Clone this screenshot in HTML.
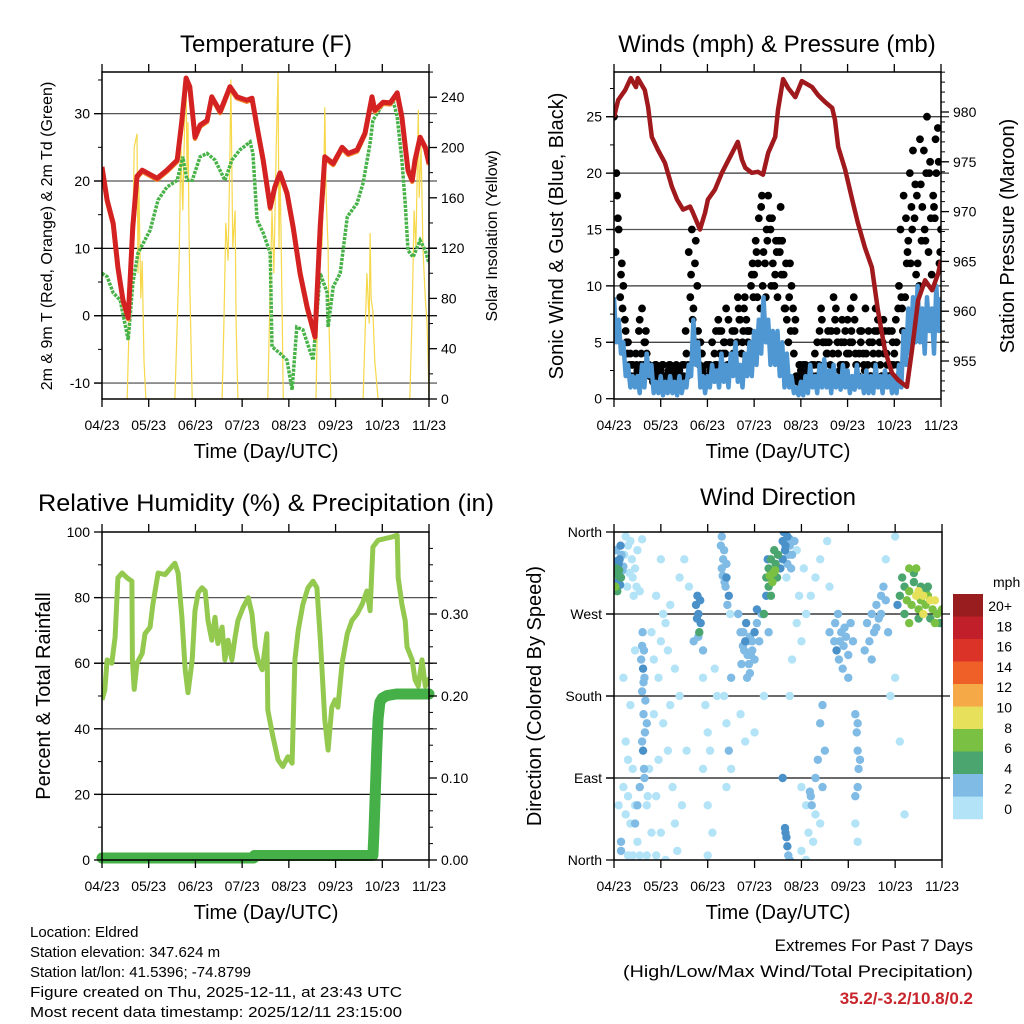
<!DOCTYPE html>
<html><head><meta charset="utf-8"><style>
html,body{margin:0;padding:0;background:#fff;}
svg{display:block;font-family:"Liberation Sans",Arial,sans-serif;}
</style></head><body>
<svg id="chart" width="1024" height="1024" viewBox="0 0 1024 1024" xmlns="http://www.w3.org/2000/svg">
<rect x="0" y="0" width="1024" height="1024" fill="#fff"/>
<text x="266" y="52" font-size="24" text-anchor="middle">Temperature (F)</text>
<text x="777" y="52" font-size="24" text-anchor="middle">Winds (mph) &amp; Pressure (mb)</text>
<text x="266" y="511" font-size="24" text-anchor="middle" textLength="456" lengthAdjust="spacingAndGlyphs">Relative Humidity (%) &amp; Precipitation (in)</text>
<text x="778" y="505" font-size="24" text-anchor="middle">Wind Direction</text>
<text x="266" y="458" font-size="20" text-anchor="middle">Time (Day/UTC)</text>
<text x="778" y="458" font-size="20" text-anchor="middle">Time (Day/UTC)</text>
<text x="266" y="919" font-size="20" text-anchor="middle">Time (Day/UTC)</text>
<text x="778" y="919" font-size="20" text-anchor="middle">Time (Day/UTC)</text>
<text transform="translate(52,236) rotate(-90)" font-size="16" text-anchor="middle">2m &amp; 9m T (Red, Orange) &amp; 2m Td (Green)</text>
<text transform="translate(497,236) rotate(-90)" font-size="16" text-anchor="middle">Solar Insolation (Yellow)</text>
<text transform="translate(563,236) rotate(-90)" font-size="20" text-anchor="middle">Sonic Wind &amp; Gust (Blue, Black)</text>
<text transform="translate(1014,236) rotate(-90)" font-size="20" text-anchor="middle">Station Pressure (Maroon)</text>
<text transform="translate(50,696) rotate(-90)" font-size="20" text-anchor="middle">Percent &amp; Total Rainfall</text>
<text transform="translate(541,696) rotate(-90)" font-size="20" text-anchor="middle">Direction (Colored By Speed)</text>
<g font-size="15">
<text x="30" y="937">Location: Eldred</text>
<text x="30" y="957">Station elevation: 347.624 m</text>
<text x="30" y="977">Station lat/lon: 41.5396; -74.8799</text>
<text x="30" y="997" textLength="372" lengthAdjust="spacingAndGlyphs">Figure created on Thu, 2025-12-11, at 23:43 UTC</text>
<text x="30" y="1017" textLength="372" lengthAdjust="spacingAndGlyphs">Most recent data timestamp: 2025/12/11 23:15:00</text>
</g>
<text x="973" y="951" font-size="17" text-anchor="end">Extremes For Past 7 Days</text>
<text x="973" y="977" font-size="17" text-anchor="end" textLength="350" lengthAdjust="spacingAndGlyphs">(High/Low/Max Wind/Total Precipitation)</text>
<text x="973" y="1004" font-size="17" font-weight="bold" fill="#c8252c" text-anchor="end">35.2/-3.2/10.8/0.2</text>
</svg>
<script>
// ---------- data ----------
const xTickLabels = ['04/23','05/23','06/23','07/23','08/23','09/23','10/23','11/23'];
const tempTime = [0,0.11,0.24,0.34,0.45,0.56,0.66,0.75,0.86,1.18,1.39,1.61,1.71,1.80,1.88,1.99,2.10,2.25,2.35,2.53,2.74,2.89,3.10,3.21,3.32,3.45,3.60,3.70,3.81,3.96,4.09,4.24,4.39,4.56,4.67,4.77,4.95,5.14,5.27,5.46,5.63,5.78,5.84,6.02,6.17,6.32,6.42,6.55,6.64,6.70,6.81,6.92,7.0];
const tempValues = [22.1,17.2,13.7,7.2,2.3,-0.3,13.2,20.7,21.6,20.4,21.6,23.1,29,35.3,34,26.5,28.3,29,32.5,30.3,34,32.5,32,32.3,28,23.1,16.1,19.1,21.2,18.2,13.2,6.3,1.3,-3.1,13.2,23.6,22.6,25,24.1,24.6,27.1,32.5,30.5,31.7,31.6,33.1,29.5,21.6,20.1,23.1,26.5,25,22.6];
const dewTime = [0,0.11,0.24,0.39,0.56,0.66,0.77,1.03,1.20,1.39,1.61,1.73,1.82,1.93,2.10,2.25,2.42,2.63,2.78,2.95,3.17,3.23,3.32,3.45,3.60,3.64,3.81,3.96,4.07,4.17,4.30,4.52,4.67,4.82,4.84,4.95,5.10,5.25,5.46,5.59,5.74,5.80,6.02,6.23,6.32,6.42,6.49,6.55,6.66,6.81,6.92,7.0];
const dewValues = [6.3,5.8,3.4,2.3,-3.6,4.8,9.3,12.7,17.2,19.1,20.1,23.6,20.1,20.1,23.6,24.1,23.1,20.1,23.1,24.6,25.8,24.1,14.2,12.3,9.3,-4.6,-5.6,-6.6,-11,-1.7,-2.1,-6.6,6.3,3.4,-1.7,4.3,6.3,14.7,16.7,19.7,25.6,29,31.5,32,29.5,23.1,16.7,9.7,8.7,11.2,9.7,7.8];
const solarTime = [0.50,0.54,0.58,0.62,0.64,0.69,0.75,0.77,0.79,0.83,0.86,0.90,0.94,0.98,
 1.52,1.56,1.61,1.65,1.69,1.73,1.78,1.80,1.82,1.84,1.86,1.88,1.93,1.97,
 2.53,2.57,2.61,2.65,2.70,2.74,2.76,2.78,2.80,2.85,2.87,2.91,2.95,
 3.51,3.55,3.60,3.64,3.68,3.73,3.77,3.79,3.81,3.83,3.88,3.92,
 4.54,4.58,4.62,4.67,4.71,4.75,4.77,4.80,4.84,4.86,4.90,4.94,
 5.55,5.59,5.63,5.67,5.72,5.74,5.76,5.80,5.84,5.91,5.95,
 6.55,6.59,6.64,6.68,6.72,6.77,6.79,6.83,6.87,6.92,6.96,6.98,7.0];
const solarValues = [0,0,60,140,90,200,211,100,170,80,110,30,0,0,
 0,0,60,110,200,150,240,256,180,220,140,90,0,0,
 0,0,60,140,110,200,254,180,120,150,60,0,0,
 0,0,90,150,100,200,260,120,180,140,0,0,
 0,0,80,150,120,180,232,160,120,60,0,0,
 0,0,50,100,60,132,80,70,30,0,0,
 0,0,70,150,120,230,160,200,120,80,60,30,0];
const gustA = [25,15,10,5,3,2.5,8,4,2,3,2.5,2,3,2,2.5,3,13,8,6,2.5,2,5,3,6,8,5,4,7,9,6,11,16,13,18,12,9,14,7,10,2,2.5,3,2,4,6,3,5,9,4,3,7,5,3,6,4,2,8,3,6,2,4,10,18,14,22,12,17,25,11,20,15];
const gustB = [13,9,7,3,2,6,3,2.5,1.5,2,3,1.5,2,3,1.5,6,9,12,3,1.5,3,2,7,4,3,6,5,4,7,10,14,8,12,16,10,14,11,5,8,1.5,2,2,3,2,8,5,3,7,2.5,5,4,9,2,4,3,5,6,2,4,3,7,15,9,20,16,10,22,13,18,24];
const gustC = [18,12,5,2,4,3,5,2,2.5,1.5,2,2.5,1.5,2,3,2,15,5,4,2,2.5,3,4,5,2.5,3,8,6,5,12,9,18,15,10,14,17,8,12,6,3,1.5,2.5,1.5,3,5,4,2,6,5,3,8,4,6,2.5,5,3,4,7,2,5,3,8,12,17,11,19,14,21,16,12];
const gustD = [20,11,6,4,2,7,5,3,2,2, 3,2,2.5,1.5,2,4,11,14,5,2, 3,4,6,5,7,4,9,5,6,11, 13,17,9,15,11,13,8,9,4,2, 3,2.5,2,5,7,4,6,8,3,6, 5,7,4,3,6,4,7,5,3,6, 5,9,16,12,19,23,15,20,17,21];
const gustE = [16,8,4,3,3,4,6,2,3,2.5, 2,3,1.5,2.5,2,3,7,10,4,3, 2,6,3,4,5,6,7,8,6,9, 12,10,14,16,13,11,12,6,7,3, 2,1.5,3,3,5,6,4,5,7,4, 6,3,5,8,2,6,5,4,6,3, 8,6,13,15,18,14,20,16,23,13];
const windSpeed = [9,5,7,4,5,2,3,1,2,1, 2,0.5,3,1,4,2,3,0.5,1.5,0.5, 2,0.3,1.5,0.5,2,0.5,1.5,0.3,2,0.5,
 1.5,1,3,2,7,3,5,1,2,0.5, 2,1,3,1.5,2.5,1,4,1.5,3,1, 4,2,5,1.5,3,1,4,2,5,2,
 6,3,7,4,9,5,7,3,6,3, 6,2,5,1,4,1,2,0.5,1,0.3, 1.5,0.3,2,0.5,3,1,2,0.5,3,1,
 3.5,1,2.5,0.5,3,1,2,0.8,3,1, 2.5,0.5,2,0.8,3,1,2,0.5,2.5,0.5, 2,0.5,3,1,2,0.5,2.5,1,2,0.5,
 2,0.5,3,1,6,3,8,4,9,5, 10,5,8,4,9,6,8,4,10,6,9];
const pressTime = [0,0.09,0.24,0.36,0.47,0.51,0.66,0.73,0.81,0.94,1.09,1.24,1.35,1.48,1.63,1.69,1.84,1.95,2.01,2.16,2.31,2.42,2.53,2.65,2.74,2.81,2.95,3.08,3.19,3.30,3.45,3.51,3.62,3.73,3.88,4.02,4.24,4.37,4.52,4.67,4.73,4.80,4.95,5.10,5.22,5.37,5.52,5.65,5.80,5.95,6.08,6.27,6.38,6.51,6.66,6.81,6.94,7.0];
const pressValues = [979.5,981.2,982.2,983.4,982.5,983.4,982.2,980.5,977.5,976.2,974.9,972.5,971.2,970.2,970.5,969.9,968.2,969.9,971.2,972.2,973.9,974.9,975.9,977.0,975.2,974.4,973.9,974.0,973.7,975.9,977.5,980.2,983.3,982.4,981.5,983.1,982.5,981.7,981.0,980.4,979.2,976.5,974.2,971.2,968.9,966.4,964.4,960.1,956.1,953.8,953.1,952.4,956.1,961.1,963.1,962.1,963.8,965.1];
const rhTime = [0,0.06,0.11,0.21,0.28,0.34,0.43,0.54,0.64,0.65,0.69,0.75,0.86,0.92,1.03,1.09,1.20,1.35,1.50,1.56,1.63,1.71,1.78,1.84,1.93,1.99,2.06,2.14,2.21,2.27,2.35,2.42,2.48,2.57,2.63,2.70,2.78,2.85,2.91,3.02,3.13,3.21,3.28,3.34,3.43,3.53,3.55,3.66,3.77,3.87,3.98,4.07,4.13,4.20,4.30,4.41,4.52,4.60,4.67,4.77,4.84,4.92,4.99,5.05,5.14,5.25,5.35,5.46,5.57,5.67,5.74,5.80,5.91,6.06,6.21,6.32,6.34,6.42,6.49,6.53,6.64,6.70,6.77,6.85,6.92,6.98,7.0];
const rhValues = [48.8,51.8,61,60,68,86,87.5,86,85,61,52,60,63,69,71,78,87.5,87,89.5,90.5,87.5,74,58,51,61,76,81.5,83,82,73,67,74,66,71,61,67,61,68,73,77,80,75,65,61,58,69,45.7,37.5,30.5,28.5,31.5,29.5,61,70,78,83,85,83,68,42.7,33.5,46.6,48.8,46.6,60,69,73,75,78,82,76,95.4,97.5,98,98.5,99,86,78,73,65,61,55,53,61,53,55,53];
const precipTime = [0,3.25,3.26,5.80,5.82,5.85,5.88,5.91,5.95,6.0,6.1,6.3,7.0];
const precipValues = [0,0,0.003,0.003,0.03,0.08,0.13,0.17,0.19,0.195,0.198,0.2,0.2];
const dirPoints = [
[0.02,315,6],[0.05,320,7],[0.08,305,5],[0.1,325,4],[0.12,330,5],[0.15,310,6],[0.03,300,8],[0.06,328,4],[0.18,318,3],[0.09,312,7],[0.13,302,4],[0.16,335,3],[0.2,322,2],[0.04,340,2],[0.07,295,6],[0.11,318,7],[0.14,345,4],
[0.25,355,1],[0.3,345,0.5],[0.35,350,1],[0.4,310,1],[0.45,320,0.5],[0.5,340,1],[0.55,295,0.5],[0.28,300,1],[0.38,330,1],[0.6,352,1],[0.48,300,1],[0.22,335,1],[0.33,315,1],[0.42,290,1],
[0.6,235,3],[0.62,210,4],[0.65,200,3],[0.6,185,2],[0.63,160,3],[0.66,140,3],[0.62,120,4],[0.64,100,2],[0.58,220,2],[0.67,175,3],[0.6,130,3],[0.65,90,2],[0.61,250,3],[0.64,230,2],[0.63,195,3],
[0.1,60,1],[0.2,80,1],[0.3,70,1],[0.35,40,1],[0.4,100,1],[0.25,130,0.5],[0.45,60,1],[0.5,20,0.5],[0.3,5,1],[0.7,60,1],[0.8,30,1],[0.9,70,1],[0.75,100,1],[0.85,160,1],[0.95,200,1],[1.0,240,1],[1.1,260,0.5],[1.2,280,1],[1.05,150,1],[1.15,120,1],[1.25,80,1],[1.3,40,1],[1.35,10,0.5],[0.2,200,1],[0.35,170,1],[0.45,230,1],[0.8,250,1],[0.9,290,0.5],[1.0,330,1],[0.7,5,0.5],[0.4,5,0.5],[0.15,10,3],[0.15,20,3],
[0.55,80,2],[0.5,60,3],[0.45,40,2],[0.7,150,2],[0.72,70,1],[0.3,110,1],[0.25,50,1],[1.0,30,1],[1.1,0,1],[1.2,170,1],[1.3,210,1],[1.4,310,1],[0.85,220,1],[1.05,270,1],[1.15,230,1],[0.95,110,1],[0.55,5,1],[0.9,5,1],
[1.75,280,4],[1.8,270,5],[1.85,260,4],[1.78,290,4],[1.82,250,6],[1.77,265,5],[1.84,285,4],[1.8,245,3],[1.7,240,2],[1.9,230,2],
[1.9,200,1],[1.95,170,1],[2.0,140,1],[2.05,120,1],[1.9,100,1],[2.0,60,1],[2.1,30,1],[2.0,5,1],[2.15,210,1],[2.2,180,1],
[2.3,355,2],[2.35,340,3],[2.3,320,2],[2.4,310,4],[2.38,300,3],[2.33,330,3],[2.45,290,4],[2.28,345,2],[2.42,280,3],[2.36,305,2],[2.48,270,1],[2.32,312,2],[2.4,325,3],
[2.35,180,1],[2.4,150,1],[2.45,120,2],[2.5,100,1],[2.4,80,1],[2.5,200,2],
[2.7,250,3],[2.75,235,3],[2.8,240,4],[2.85,225,3],[2.9,245,3],[2.95,230,3],[3.0,220,3],[3.05,260,3],[3.1,240,2],[2.72,215,3],[2.82,260,4],[2.9,205,3],[3.0,250,4],[2.78,230,2],[2.88,215,3],[2.65,270,2],[3.15,270,3],[3.05,275,5],[2.95,240,2],[2.84,200,2],[2.76,250,2],[2.86,240,2],[2.92,225,2],
[3.25,310,7],[3.3,320,6],[3.35,330,7],[3.4,315,8],[3.45,325,6],[3.5,335,7],[3.3,300,6],[3.38,305,8],[3.28,330,5],[3.42,340,6],[3.55,320,5],[3.48,310,7],[3.25,290,5],[3.35,290,6],[3.6,330,4],[3.2,270,7],[3.32,312,9],[3.44,318,8],
[3.6,350,4],[3.65,340,4],[3.7,355,4],[3.75,345,2],[3.8,335,2],[3.7,325,2],[3.85,350,2],[3.62,360,4],[3.9,340,1],[3.78,320,2],[3.68,310,1],[3.72,335,3],[3.76,352,2],[3.66,345,4],
[3.65,35,4],[3.68,25,4],[3.7,15,4],[3.72,5,3],[3.75,0,3],[3.66,30,4],[3.6,90,4],
[4.0,80,1],[4.1,60,1],[4.2,70,2],[4.3,50,1],[4.0,10,1],[4.15,30,1],[4.25,20,1],[4.4,40,1],[4.3,90,2],[4.1,0,1],[4.45,80,2],[4.35,110,2],[4.4,150,2],[4.45,170,2],[4.5,120,3],[4.18,75,2],[4.22,60,2],
[3.75,180,1],[3.8,220,1],[3.9,260,1],[4.0,240,1],[4.1,270,1],[4.2,290,1],[4.3,310,1],[4.4,330,1],[4.55,350,1],[4.6,300,1],[3.95,290,1],[4.05,320,1],
[4.6,250,3],[4.7,240,3],[4.75,230,4],[4.8,220,3],[4.85,250,3],[4.9,235,2],[4.95,245,3],[5.0,225,3],[5.05,260,2],[5.1,240,3],[4.72,260,2],[4.88,210,2],[5.0,200,2],[4.78,270,3],[4.82,240,2],[4.92,255,2],
[5.15,160,3],[5.18,140,3],[5.2,120,3],[5.22,100,2],[5.2,80,3],[5.15,70,2],[5.25,110,3],[5.2,150,2],[5.15,40,1],[5.2,20,1],
[5.4,260,3],[5.5,270,3],[5.55,250,3],[5.6,280,3],[5.65,265,2],[5.7,290,2],[5.75,300,2],[5.8,285,3],[5.45,240,2],[5.35,230,3],[5.5,220,2],[5.85,250,2],[5.6,255,2],[5.7,270,3],
[6.1,290,6],[6.2,300,7],[6.25,285,8],[6.3,295,9],[6.35,280,8],[6.4,305,7],[6.45,290,10],[6.5,275,9],[6.55,285,8],[6.6,270,10],[6.65,280,9],[6.7,290,8],[6.75,265,7],[6.8,275,9],[6.85,285,10],[6.9,270,8],[6.95,260,7],[7.0,275,8],[6.15,310,7],[6.3,320,8],[6.4,315,6],[6.55,300,7],[6.7,300,6],[6.85,260,9],[6.2,270,6],[6.6,290,10],[6.5,265,7],[6.05,280,5],[6.3,260,8],[6.45,320,8],[6.5,295,10],[6.65,295,7],[6.75,285,10],
[6.0,200,1],[6.1,130,1],[6.2,50,1],[5.9,180,1],[5.8,330,1],[6.0,355,1],[1.5,330,1],[1.6,300,1],[1.4,180,1],[1.45,60,1],[1.55,120,1],[2.7,160,1],[2.8,130,1],[3.0,140,1],[3.2,180,1],[3.3,250,2]
];
const speedLabels = ['20+','18','16','14','12','10','8','6','4','2','0'];
const speedColors = ['#991c1f','#c1202a','#dc3329','#ef6028','#f5a947','#e6e05a','#7ac143','#4aa56e','#4a90c9','#7fbbe5','#b3e3f7'];

// ---------- helpers ----------
const NS='http://www.w3.org/2000/svg';
const svg=document.getElementById('chart');
function mk(tag,attrs,parent){const e=document.createElementNS(NS,tag);for(const k in attrs)e.setAttribute(k,attrs[k]);(parent||svg).appendChild(e);return e;}
function panel(x0,x1,y0,y1){return {x0,x1,y0,y1,sx:d=>x0+d*(x1-x0)/7};}
const P1=panel(102,429,72,399), P2=panel(614,941,72,399), P3=panel(102,429,532,860), P4=panel(614,942,532,860);
const t1=v=>315.7-v*6.735, s1=v=>399-v*1.2575;
const w2=v=>398.7-v*11.28, p2=v=>112+(980-v)*9.96;
const r3=v=>860-v*3.28, q3=v=>860-v*820;
const d4=v=>860-v*328/360;

function grid(p,ys,name,col){
  ys.forEach((y,i)=>{const l=mk('line',{x1:p.x0-8,x2:p.x1+8,y1:y,y2:y,stroke:col[i%col.length],'stroke-width':1.3});
  
  });
}
function frame(p,name,labelY){
  const g=mk('g',{});
  
  
  xTickLabels.forEach((lab,i)=>{
    const x=p.sx(i);
    mk('line',{x1:x,x2:x,y1:p.y1,y2:p.y1+8,stroke:'#000','stroke-width':1.3},g);
    mk('line',{x1:x,x2:x,y1:p.y0,y2:p.y0-8,stroke:'#000','stroke-width':1.3},g);
    const t=mk('text',{x:x,y:labelY,'font-size':14,'text-anchor':'middle'},g);
    t.textContent=lab;
    
    
  });
  const r=mk('rect',{x:p.x0,y:p.y0,width:p.x1-p.x0,height:p.y1-p.y0,fill:'none',stroke:'#000','stroke-width':1.5},g);
  
  
}
function yAxis(p,side,vals,labels,scale,minor,name){
  const g=mk('g',{});
  
  
  const x=side==='left'?p.x0:p.x1, dir=side==='left'?-1:1;
  vals.forEach((v,i)=>{const y=scale(v);
    mk('line',{x1:x,x2:x+dir*8,y1:y,y2:y,stroke:'#000','stroke-width':1.3},g);
    const t=mk('text',{x:x+dir*12,y:y+5,'font-size':14,'text-anchor':side==='left'?'end':'start'},g);
    t.textContent=labels[i];
    
    });
  (minor||[]).forEach(v=>{const y=scale(v);if(y<p.y0-1||y>p.y1+1)return;
    mk('line',{x1:x,x2:x+dir*4,y1:y,y2:y,stroke:'#000','stroke-width':1},g);});
}
function pathD(ts,vs,sx,sy){let d='';const n=Math.min(ts.length,vs.length);for(let i=0;i<n;i++)d+=(i?'L':'M')+sx(ts[i]).toFixed(1)+','+sy(vs[i]).toFixed(1);return d;}
function clip(id,p){const c=mk('clipPath',{id:id});mk('rect',{x:p.x0,y:p.y0,width:p.x1-p.x0,height:p.y1-p.y0},c);}

// ---------- panel 1 ----------
clip('c1',P1);
grid(P1,[30,20,10,0,-10].map(t1),'temperature',['#555','#555','#111','#111','#666']);
const g1=mk('g',{'clip-path':'url(#c1)'});


const sol=mk('path',{d:pathD(solarTime,solarValues,P1.sx,s1),fill:'none',stroke:'#f6d84a','stroke-width':1.2},g1);


const dew=mk('path',{d:pathD(dewTime,dewValues,P1.sx,t1),fill:'none',stroke:'#47b247','stroke-width':3.5,'stroke-dasharray':'3 1.2'},g1);


const t9=mk('path',{d:pathD(tempTime,tempValues,P1.sx,v=>t1(v)+1.5),fill:'none',stroke:'#f28a30','stroke-width':4.5,'stroke-linejoin':'round'},g1);


const t2=mk('path',{d:pathD(tempTime,tempValues,P1.sx,t1),fill:'none',stroke:'#d42222','stroke-width':5,'stroke-linejoin':'round'},g1);


frame(P1,'temperature',430);
yAxis(P1,'left',[-10,0,10,20,30],['-10','0','10','20','30'],t1,[-5,5,15,25,35],'temperature-left-axis');
yAxis(P1,'right',[0,40,80,120,160,200,240],['0','40','80','120','160','200','240'],s1,[20,60,100,140,180,220,260],'solar-right-axis');

// ---------- panel 2 ----------
clip('c2',P2);
grid(P2,[5,10,15,20,25].map(w2),'winds',['#444','#333','#555','#333','#444']);
const g2=mk('g',{'clip-path':'url(#c2)'});


[[gustA,0],[gustB,0.033],[gustC,0.067],[gustD,0.05],[gustE,0.083]].forEach(([arr,off])=>{
  arr.forEach((v,i)=>{const d=i*0.1+off;if(d>7)return;
    const c=mk('circle',{cx:P2.sx(d),cy:w2(v),r:3.9,fill:'#000'},g2);
    
    });
});
const wl=mk('path',{d:pathD(windSpeed.map((_,i)=>i*0.05),windSpeed,P2.sx,w2),fill:'none',stroke:'#4f97d2','stroke-width':4.5,'stroke-linejoin':'round'},g2);


const pl=mk('path',{d:pathD(pressTime,pressValues,P2.sx,p2),fill:'none',stroke:'#a0191c','stroke-width':4.5,'stroke-linejoin':'round'},g2);


frame(P2,'winds',430);
yAxis(P2,'left',[0,5,10,15,20,25],['0','5','10','15','20','25'],w2,[2.5,7.5,12.5,17.5,22.5,27.5],'wind-left-axis');
const pm=[];for(let v=952;v<=984;v++)pm.push(v);
yAxis(P2,'right',[955,960,965,970,975,980],['955','960','965','970','975','980'],p2,pm,'pressure-right-axis');

// ---------- panel 3 ----------
clip('c3',P3);
grid(P3,[20,40,60,80].map(r3),'humidity',['#111','#555','#111','#555']);
const g3=mk('g',{});


const rl=mk('path',{d:pathD(rhTime,rhValues,P3.sx,r3),fill:'none',stroke:'#93c94f','stroke-width':5,'stroke-linejoin':'round','clip-path':'url(#c3)'},g3);


const prl=mk('path',{d:pathD(precipTime,precipValues,P3.sx,v=>q3(v)-2),fill:'none',stroke:'#46b048','stroke-width':11,'stroke-linecap':'round','stroke-linejoin':'round'},g3);


frame(P3,'humidity',891);
yAxis(P3,'left',[0,20,40,60,80,100],['0','20','40','60','80','100'],r3,[10,30,50,70,90],'humidity-left-axis');
const qm=[];for(let v=0;v<=0.4;v+=0.02)qm.push(v);
yAxis(P3,'right',[0,0.1,0.2,0.3],['0.00','0.10','0.20','0.30'],q3,qm,'precip-right-axis');

// ---------- panel 4 ----------
clip('c4',P4);
grid(P4,[90,180,270].map(d4),'direction',['#111']);
const g4=mk('g',{'clip-path':'url(#c4)'});


function spdColor(s){const idx=Math.min(10,Math.floor(s/2));return speedColors[10-idx];}
dirPoints.slice().sort((a,b)=>a[2]-b[2]).forEach(pt=>{
  const c=mk('circle',{cx:P4.sx(pt[0]),cy:d4(pt[1]),r:4.2,fill:spdColor(pt[2])},g4);
  
  
});
frame(P4,'direction',891);
yAxis(P4,'left',[0,90,180,270,360],['North','East','South','West','North'],d4,[],'direction-left-axis');
// legend
const lg=mk('g',{});


const lt=mk('text',{x:993,y:587,'font-size':14},lg);
lt.textContent='mph';


speedColors.forEach((col,i)=>{
  if(i<10){const b=mk('rect',{x:953,y:594+i*22.5,width:30,height:22.6,fill:col},lg);
  
  }
});
const bl=mk('rect',{x:953,y:594+9*22.5,width:30,height:22.6,fill:speedColors[10]},lg);


const b2=mk('rect',{x:953,y:594+8*22.5,width:30,height:22.6,fill:speedColors[9]},lg);


speedLabels.forEach((lab,i)=>{
  const t=mk('text',{x:1012,y:611+i*20.3,'font-size':14,'text-anchor':'end'},lg);
  t.textContent=lab;
  
  
});
</script>
</body></html>
